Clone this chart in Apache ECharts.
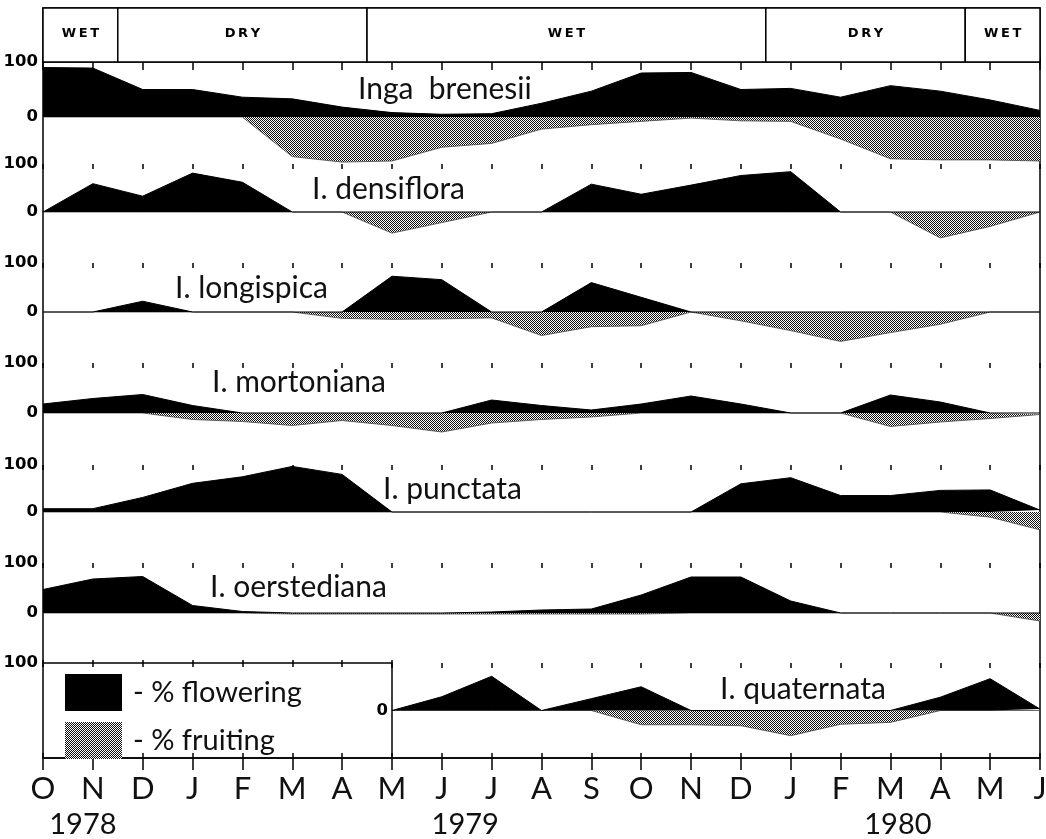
<!DOCTYPE html>
<html><head><meta charset="utf-8">
<script src="https://cdn.jsdelivr.net/npm/echarts@6/dist/echarts.min.js"></script>
<style>html,body{margin:0;padding:0;background:#fff}#c{width:1046px;height:839px}</style>
</head><body><div id="c"></div>
<script>
// ---------------- data ----------------
const months = ['O','N','D','J','F','M','A','M','J','J','A','S','O','N','D','J','F','M','A','M','J'];
const yearLabels = ['1978','1979','1980'];
const yearAt = [0.8, 8.47, 17.15];           // month-index position of year labels
const seasonNames = ['WET','DRY','WET','DRY','WET'];
const seasonStart = [0, 1.5, 6.5, 14.5, 18.5];
const seasonEnd   = [1.5, 6.5, 14.5, 18.5, 20];
const speciesNames = ['Inga  brenesii','I. densiflora','I. longispica','I. mortoniana','I. punctata','I. oerstediana','I. quaternata'];

const brenesiiFlower = [90,89,50,50,36,33,18,8,5,6,25,47,80,81,50,52,36,57,47,31,12];
const brenesiiFruit  = [0,0,0,0,0,-72,-82,-80,-55,-48,-22,-14,-8,-2,-7,-8,-40,-76,-78,-78,-80];
const densifloraFlower = [0,59,33,81,62,0,0,0,0,0,0,58,37,56,76,84,0,0,0,0,0];
const densifloraFruit  = [0,0,0,0,0,0,0,-44,-22,0,0,0,0,0,0,0,0,0,-54,-30,0];
const longispicaFlower = [0,0,22,0,0,0,0,73,66,0,0,60,30,0,0,0,0,0,0,0,0];
const longispicaFruit  = [0,0,0,0,0,0,-13,-15,-14,-12,-48,-30,-28,0,-18,-38,-60,-42,-25,0,0];
const mortonianaFlower = [18,29,37,15,0,0,0,0,0,26,15,6,18,34,18,0,0,36,22,0,0];
const mortonianaFruit  = [0,0,0,-13,-17,-25,-15,-25,-38,-20,-13,-8,0,0,0,0,0,-27,-18,-11,-3];
const punctataFlower = [7,7,31,61,75,97,80,0,0,0,0,0,0,0,60,73,35,35,46,47,4];
const punctataFruit  = [0,0,0,0,0,0,0,0,0,0,0,0,0,0,0,0,0,0,0,-11,-38];
const oerstedianaFlower = [47,68,73,15,3,0,0,0,0,2,6,8,36,72,72,24,0,0,0,0,0];
const oerstedianaFruit  = [0,0,0,0,0,-2,-2,-2,-2,-2,-2,-2,-2,0,0,0,0,0,0,0,-16];
const quaternataFlower = [null,null,null,null,null,null,null,0,29,72,0,25,50,0,0,0,0,0,28,67,3];
const quaternataFruit  = [null,null,null,null,null,null,null,0,0,0,0,0,-30,-30,-32,-53,-29,-25,0,0,0];

// ---------------- layout (not data) ----------------
const panels = [
  {flower: brenesiiFlower,    fruit: brenesiiFruit,    top: 62,  h: 110, lx: 358, ly: 74},
  {flower: densifloraFlower,  fruit: densifloraFruit,  top: 164, h: 96,  lx: 312, ly: 174},
  {flower: longispicaFlower,  fruit: longispicaFruit,  top: 263, h: 98,  lx: 175, ly: 273},
  {flower: mortonianaFlower,  fruit: mortonianaFruit,  top: 363, h: 100, lx: 212, ly: 367},
  {flower: punctataFlower,    fruit: punctataFruit,    top: 465, h: 94,  lx: 383, ly: 474},
  {flower: oerstedianaFlower, fruit: oerstedianaFruit, top: 563, h: 100, lx: 210, ly: 572},
  {flower: quaternataFlower,  fruit: quaternataFruit,  top: 663, h: 95,  lx: 720, ly: 674}
];

// hatch pattern for fruiting
const pc = document.createElement('canvas'); pc.width = 4; pc.height = 4;
const pctx = pc.getContext('2d');
pctx.fillStyle = '#fff'; pctx.fillRect(0, 0, 4, 4);
pctx.fillStyle = '#111';
for (let y = 0; y < 4; y++) for (let x = 0; x < 4; x++) {
  if ((x + y) % 2 === 0) pctx.fillRect(x, y, 1, 1);
}
const hatch = {image: pc, repeat: 'repeat'};

const L = 43, R = 6;
const grids = [], xAxes = [], yAxes = [], series = [], titles = [];
const monthFont = {fontFamily: 'Lato', fontSize: 31, color: '#111'};
const numFont = {fontFamily: 'DejaVu Sans', fontWeight: 'bold', fontSize: 16.5, color: '#000'};

function addGrid(g) { grids.push(Object.assign({containLabel: false, outerBoundsMode: 'none'}, g)); return grids.length - 1; }
function xa(gi, o) {
  xAxes.push(Object.assign({type: 'value', gridIndex: gi, min: 0, max: 20, interval: 1,
    splitLine: {show: false}, axisLabel: {show: false}, axisTick: {show: false},
    axisLine: {show: false, onZero: false}}, o));
  return xAxes.length - 1;
}
function ya(gi, o) {
  yAxes.push(Object.assign({type: 'value', gridIndex: gi, min: -100, max: 100, interval: 100,
    splitLine: {show: false}, axisTick: {show: false}, axisLine: {show: false},
    axisLabel: {show: false}}, o));
  return yAxes.length - 1;
}
const blackLine = {color: '#000', width: 1.5};

// frame grid (outer box) + year labels
const gF = addGrid({left: L, right: R, top: 8, bottom: 81, show: true, borderColor: '#000', borderWidth: 1.5, backgroundColor: 'transparent'});
xa(gF, {position: 'bottom', axisLabel: Object.assign({show: true, customValues: yearAt, margin: 52,
  formatter: v => { let b = 0; yearAt.forEach((p, i) => { if (Math.abs(p - v) < Math.abs(yearAt[b] - v)) b = i; }); return yearLabels[b]; }},
  {fontFamily: 'Lato', fontSize: 29, color: '#111'})});
ya(gF, {min: 0, max: 1, interval: 1});

// season grid
const gS = addGrid({left: L, right: R, top: 8, height: 54});
const xS = xa(gS, {});
const yS = ya(gS, {min: 0, max: 1, interval: 1});
series.push({
  type: 'custom', xAxisIndex: xS, yAxisIndex: yS, silent: true, clip: false,
  data: seasonNames.map((n, i) => [seasonStart[i], seasonEnd[i]]),
  encode: {x: [0, 1]},
  renderItem: (params, api) => {
    const p0 = api.coord([api.value(0), 1]);
    const p1 = api.coord([api.value(1), 0]);
    return {type: 'group', children: [
      {type: 'rect', shape: {x: p0[0], y: p0[1], width: p1[0] - p0[0], height: p1[1] - p0[1]},
       style: {fill: '#fff', stroke: '#000', lineWidth: 1.5}},
      {type: 'text', style: {text: seasonNames[params.dataIndex].split('').join('\u2009'),
       x: (p0[0] + p1[0]) / 2, y: (p0[1] + p1[1]) / 2 - 1, align: 'center', verticalAlign: 'middle',
       fontFamily: 'DejaVu Sans', fontWeight: 'bold', fontSize: 13, fill: '#000'}}
    ]};
  }
});

function addSeries(xi, yi, flower, fruit) {
  const toPairs = arr => arr.map((v, i) => [i, v]).filter(p => p[1] !== null);
  series.push({type: 'line', name: '% fruiting', xAxisIndex: xi, yAxisIndex: yi, data: toPairs(fruit),
    symbol: 'none', silent: true, z: 2, color: '#555',
    lineStyle: {width: 0.8, color: '#444'}, areaStyle: {color: hatch, opacity: 1}});
  series.push({type: 'line', name: '% flowering', xAxisIndex: xi, yAxisIndex: yi, data: toPairs(flower),
    symbol: 'none', silent: true, z: 3, color: '#000',
    lineStyle: {width: 1, color: '#000'}, areaStyle: {color: '#000', opacity: 1}});
}

// panels 1..6
panels.slice(0, 6).forEach((p, k) => {
  const g = addGrid({left: L, right: R, top: p.top, height: p.h});
  const xi = xa(g, {position: 'bottom'});
  if (k === 0) {
    xa(g, {position: 'top', axisLine: {show: true, onZero: false, lineStyle: blackLine},
      axisTick: {show: true, inside: false, length: 5, lineStyle: blackLine}});
    xa(g, {position: 'top', axisTick: {show: true, inside: true, length: 8, lineStyle: blackLine}});
  } else {
    xa(g, {position: 'top', axisTick: {show: true, inside: true, length: 5, lineStyle: {color: '#000', width: 1.5}}});
  }
  const yi = ya(g, {axisLabel: Object.assign({show: true, margin: 5, formatter: v => v === 100 ? '100' : (v === 0 ? '0' : '')}, numFont)});
  addSeries(xi, yi, p.flower, p.fruit);
  titles.push({text: speciesNames[k], left: p.lx, top: p.ly, padding: 0,
    textStyle: {fontFamily: 'Lato', fontWeight: 'normal', fontSize: 30, color: '#111'}});
});

// legend grid (box at lower left, months O..A)
const gL = addGrid({left: L, width: 7 * (1040 - L) / 20, top: 663, height: 95});
xa(gL, {max: 7, position: 'top', axisLine: {show: true, onZero: false, lineStyle: blackLine},
  axisTick: {show: true, inside: false, length: 3, lineStyle: blackLine}});
xa(gL, {max: 7, position: 'top', axisTick: {show: true, inside: true, length: 4, lineStyle: blackLine}});
xa(gL, {max: 7, position: 'bottom', axisLine: {show: true, onZero: false, lineStyle: blackLine},
  axisTick: {show: true, inside: false, length: 12, lineStyle: blackLine},
  axisLabel: Object.assign({show: true, margin: 15, showMaxLabel: false, formatter: v => v < 7 ? months[v] : ''}, monthFont)});
xa(gL, {max: 7, position: 'bottom', axisTick: {show: true, inside: true, length: 5, lineStyle: blackLine}});
ya(gL, {axisLabel: Object.assign({show: true, margin: 5, formatter: v => v === 100 ? '100' : ''}, numFont)});

// quaternata grid (from May 1979)
const p7 = panels[6];
const gQ = addGrid({left: L + 7 * (1040 - L) / 20, right: R, top: p7.top, height: p7.h});
const xQ = xa(gQ, {min: 7, position: 'bottom', axisLine: {show: true, onZero: false, lineStyle: blackLine},
  axisTick: {show: true, inside: false, length: 12, lineStyle: blackLine},
  axisLabel: Object.assign({show: true, margin: 15, formatter: v => months[v]}, monthFont)});
xa(gQ, {min: 7, position: 'bottom', axisTick: {show: true, inside: true, length: 5, lineStyle: blackLine}});
xa(gQ, {min: 7, position: 'top', axisTick: {show: true, inside: true, length: 5, lineStyle: {color: '#000', width: 1.5}}});
const yQ = ya(gQ, {axisLine: {show: true, lineStyle: blackLine},
  axisLabel: Object.assign({show: true, margin: 4, formatter: v => v === 0 ? '0' : ''}, numFont)});
addSeries(xQ, yQ, p7.flower, p7.fruit);
titles.push({text: speciesNames[6], left: p7.lx, top: p7.ly, padding: 0,
  textStyle: {fontFamily: 'Lato', fontWeight: 'normal', fontSize: 30, color: '#111'}});

const chart = echarts.init(document.getElementById('c'));
chart.setOption({
  animation: false,
  backgroundColor: '#fff',
  title: titles,
  legend: {
    left: 60, top: 669, orient: 'vertical', itemWidth: 57, itemHeight: 37, itemGap: 11,
    selectedMode: false, icon: 'rect',
    formatter: n => '- ' + n,
    textStyle: {fontFamily: 'Lato', fontSize: 29, color: '#111', padding: [0, 0, 0, 6]},
    data: [
      {name: '% flowering', icon: 'rect', itemStyle: {color: '#000', borderWidth: 0}},
      {name: '% fruiting', icon: 'rect', itemStyle: {color: hatch, borderWidth: 0}}
    ]
  },
  grid: grids, xAxis: xAxes, yAxis: yAxes, series: series
});
</script></body></html>
